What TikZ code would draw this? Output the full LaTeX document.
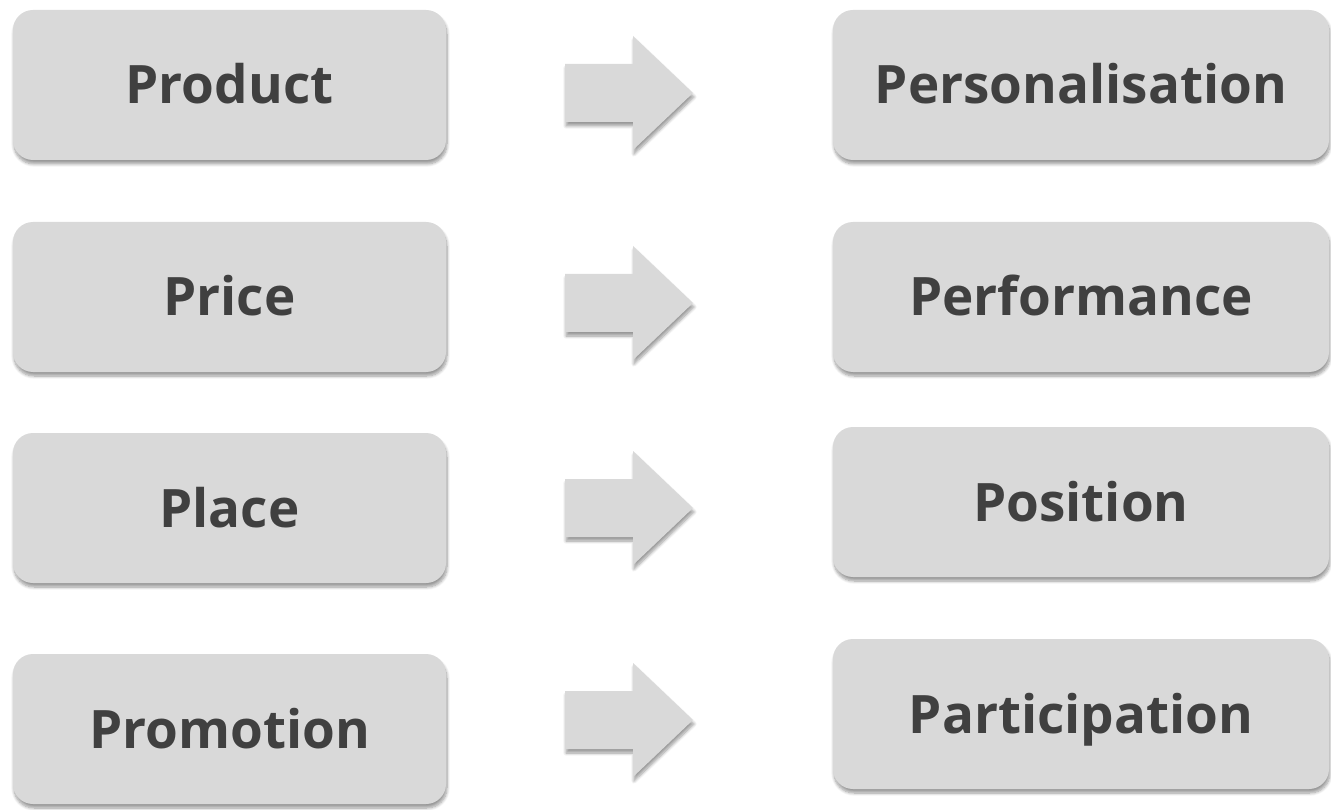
\documentclass[tikz,border=0pt]{standalone}
\usepackage{fontspec}
\setmainfont{Open Sans}
\usetikzlibrary{shadows.blur}
\definecolor{boxfill}{HTML}{D9D9D9}
\definecolor{txtcol}{HTML}{404040}
\tikzset{
  softshadow/.style={blur shadow={shadow xshift=1pt, shadow yshift=-4pt, shadow opacity=40, shadow blur steps=8, shadow blur radius=3pt}},
  pbox/.style={draw=none, fill=boxfill, rounded corners=20pt, inner sep=0pt,
    text height=38pt, text depth=0pt, minimum height=150pt,
    font=\fontsize{53}{58}\selectfont\bfseries, text=txtcol, softshadow},
  lbox/.style={pbox, minimum width=433pt},
  rbox/.style={pbox, minimum width=496pt},
  blockarrow/.style={fill=boxfill, draw=none, softshadow}
}
\begin{document}
\begin{tikzpicture}[x=1pt,y=1pt]
\useasboundingbox (0,0) rectangle (1331,-810);
% left column
\node[lbox] (prod) at (229.5,-85) {Product};
\node[lbox] (price) at (229.5,-297) {Price};
\node[lbox] (place) at (229.5,-508) {Place};
\node[lbox] (promo) at (229.5,-729) {Promotion};
% right column
\node[rbox] (pers) at (1081,-85) {Personalisation};
\node[rbox] (perf) at (1081,-297) {Performance};
\node[rbox] (posi) at (1081,-502) {Position};
\node[rbox] (part) at (1081,-714) {Participation};
% block arrows
\foreach \yy in {93,303,508,720}{
  \begin{scope}[yshift=-\yy pt]
    \path[blockarrow] (565,29) -- (633,29) -- (633,57) -- (693,0) -- (633,-57) -- (633,-29) -- (565,-29) -- cycle;
  \end{scope}
}
\end{tikzpicture}
\end{document}
